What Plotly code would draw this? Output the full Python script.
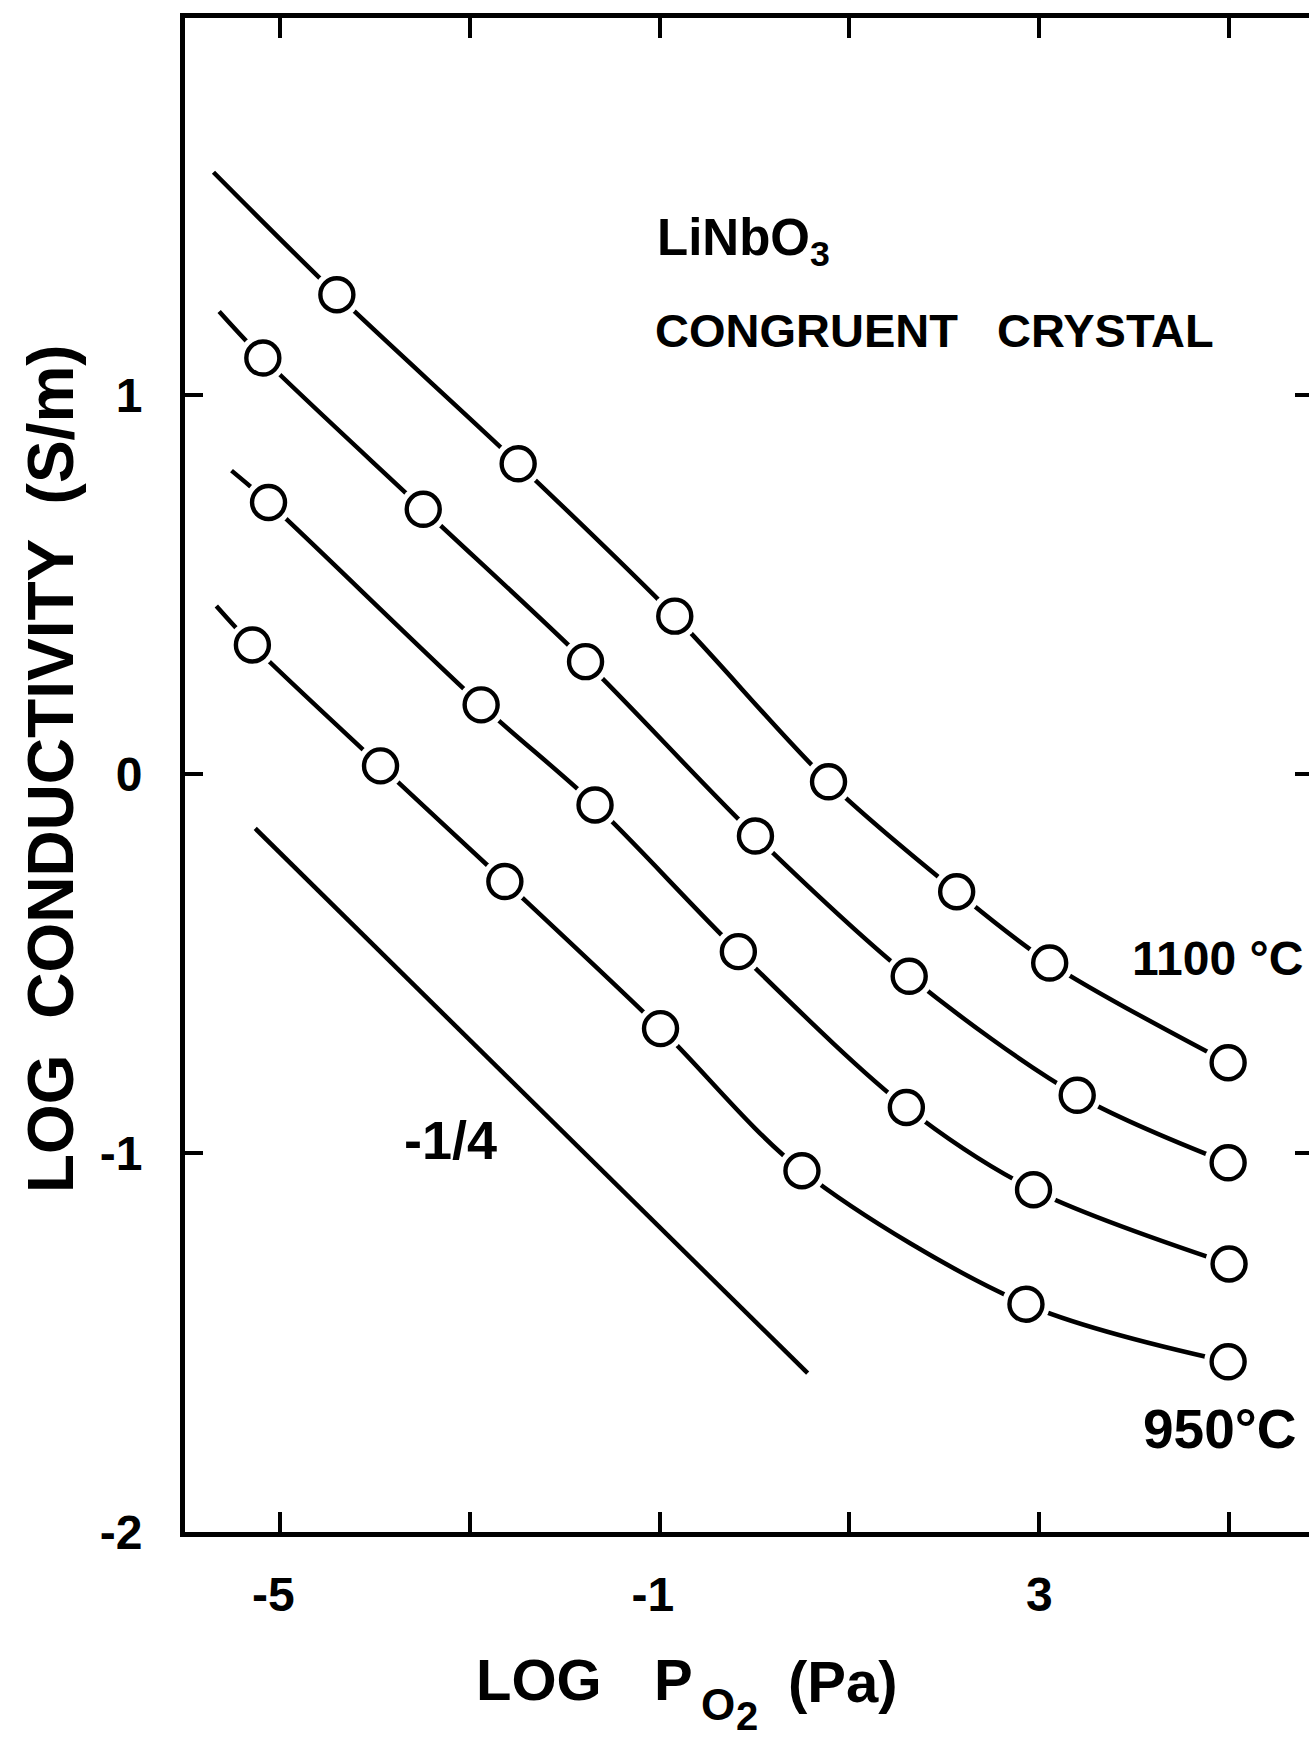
import plotly.graph_objects as go

# ---- data (log pO2 [Pa], log conductivity [S/m]) ----
x_1100 = [-4.40, -2.49, -0.84, 0.78, 2.13, 3.11, 4.99]
y_1100 = [1.264, 0.818, 0.416, -0.021, -0.311, -0.499, -0.762]
start_1100 = (-5.70, 1.587)

x_1050 = [-5.18, -3.49, -1.78, 0.01, 1.63, 3.40, 4.99]
y_1050 = [1.097, 0.698, 0.296, -0.164, -0.534, -0.848, -1.026]
start_1050 = (-5.64, 1.22)

x_1000 = [-5.12, -2.88, -1.68, -0.17, 1.60, 2.94, 5.00]
y_1000 = [0.716, 0.182, -0.082, -0.469, -0.880, -1.097, -1.293]
start_1000 = (-5.51, 0.80)

x_950 = [-5.29, -3.94, -2.63, -0.99, 0.50, 2.86, 4.99]
y_950 = [0.340, 0.021, -0.284, -0.672, -1.047, -1.399, -1.551]
start_950 = (-5.67, 0.443)

slope_x = [-5.26, 0.56]
slope_y = [-0.144, -1.581]

x_tickvals = [-5, -3, -1, 1, 3, 5]
x_ticktext = ["-5 ", "", "-1 ", "", "3", ""]
y_tickvals = [-2, -1, 0, 1]
y_ticktext = ["-2", "-1", "0", "1"]

FONT = "Liberation Sans, Arial, sans-serif"
INK = "black"

series = [
    (x_1100, y_1100, start_1100),
    (x_1050, y_1050, start_1050),
    (x_1000, y_1000, start_1000),
    (x_950, y_950, start_950),
]

fig = go.Figure()

# curves
for xs, ys, st in series:
    fig.add_trace(go.Scatter(
        x=[st[0]] + xs, y=[st[1]] + ys, mode="lines",
        line=dict(color=INK, width=4.5, shape="spline", smoothing=0.9),
        hoverinfo="skip", showlegend=False))

# slope guide -1/4
fig.add_trace(go.Scatter(x=slope_x, y=slope_y, mode="lines",
                         line=dict(color=INK, width=4.5),
                         showlegend=False, hoverinfo="skip"))

# white halos that open a gap in the curve around each circle
for xs, ys, st in series:
    fig.add_trace(go.Scatter(
        x=xs, y=ys, mode="markers",
        marker=dict(symbol="circle", size=48, color="white", line=dict(width=0)),
        showlegend=False, hoverinfo="skip"))

# open circles
for xs, ys, st in series:
    fig.add_trace(go.Scatter(
        x=xs, y=ys, mode="markers",
        marker=dict(symbol="circle", size=33, color="white",
                    line=dict(color=INK, width=4.4)),
        showlegend=False))

# helper trace so the right-hand tick axis is rendered
fig.add_trace(go.Scatter(x=[None], y=[None], yaxis="y2", showlegend=False,
                         hoverinfo="skip"))

L, T, B = 185, 18, 209
W, H = 1309, 1741
PW, PH = W - L, H - T - B
yr = [-2.0, 1.994]
fig.update_layout(
    width=W, height=H,
    margin=dict(l=L, r=0, t=T, b=B),
    paper_bgcolor="white", plot_bgcolor="white",
    font=dict(family=FONT, color=INK, size=48, weight=700),
    xaxis=dict(range=[-6.0, 5.842], tickvals=x_tickvals, ticktext=x_ticktext,
               ticks="inside", ticklen=20, tickwidth=4, tickcolor=INK,
               showline=True, linewidth=5, linecolor=INK, mirror="ticks",
               showgrid=False, zeroline=False, ticklabelstandoff=16,
               tickfont=dict(size=48, family=FONT, weight=700)),
    yaxis=dict(range=yr, tickvals=y_tickvals, ticktext=y_ticktext,
               ticks="inside", ticklen=18, tickwidth=4, tickcolor=INK,
               showline=True, linewidth=5, linecolor=INK, mirror=False,
               showgrid=False, zeroline=False, ticklabelstandoff=28,
               tickfont=dict(size=48, family=FONT, weight=700)),
    yaxis2=dict(range=yr, overlaying="y", side="right", anchor="free",
                position=1.0, tickvals=[-1, 0, 1], ticks="inside",
                ticklen=14, tickwidth=4, tickcolor=INK, showline=False,
                showticklabels=False, showgrid=False, zeroline=False),
    showlegend=False,
)


def px_x(p):
    return (p - L) / PW


def px_y(p):
    return (H - B - p) / PH


def fnt(s):
    return dict(family=FONT, color=INK, size=s, weight=700)


annotations = [
    dict(text="LiNbO<sub>3</sub>", x=-1.048, y=1.405, xanchor="left", yanchor="middle",
         font=fnt(51)),
    dict(text="CONGRUENT   CRYSTAL", x=-1.07, y=1.169, xanchor="left",
         yanchor="middle", font=fnt(47)),
    dict(text="1100 °C", x=3.956, y=-0.487, xanchor="left", yanchor="middle",
         font=fnt(48)),
    dict(text="950°C", x=4.072, y=-1.728, xanchor="left", yanchor="middle",
         font=fnt(55)),
    dict(text="-1/4", x=-3.713, y=-0.965, xanchor="left", yanchor="middle",
         font=fnt(54)),
    # x-axis title, built from pieces so O2 can sit as a double subscript
    dict(text="LOG", xref="paper", yref="paper", x=px_x(474), y=px_y(1679),
         xanchor="left", yanchor="middle", font=fnt(58)),
    dict(text="P", xref="paper", yref="paper", x=px_x(652), y=px_y(1679),
         xanchor="left", yanchor="middle", font=fnt(58)),
    dict(text="O", xref="paper", yref="paper", x=px_x(699), y=px_y(1704),
         xanchor="left", yanchor="middle", font=fnt(44)),
    dict(text="2", xref="paper", yref="paper", x=px_x(734), y=px_y(1740),
         xanchor="left", yanchor="bottom", font=fnt(40)),
    dict(text="(Pa)", xref="paper", yref="paper", x=px_x(786), y=px_y(1681),
         xanchor="left", yanchor="middle", font=fnt(58)),
    dict(text="LOG  CONDUCTIVITY  (S/m)", xref="paper", yref="paper",
         x=px_x(51), y=px_y(769), xanchor="center",
         yanchor="middle", textangle=-90, font=fnt(64)),
]
for a in annotations:
    a.setdefault("xref", "x")
    a.setdefault("yref", "y")
    a["showarrow"] = False
    fig.add_annotation(**a)

fig.write_html("out.html")
